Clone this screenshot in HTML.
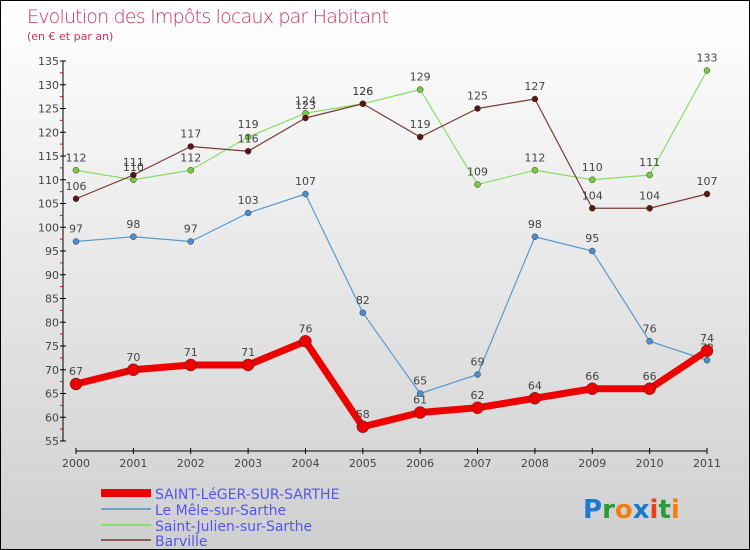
<!DOCTYPE html>
<html><head><meta charset="utf-8"><style>
body{margin:0}
#c{position:relative;width:748px;height:548px;border:1px solid #000;background:linear-gradient(#fff,#cfcfcf);font-family:"DejaVu Sans","Liberation Sans",sans-serif;overflow:hidden}
</style></head><body>
<div id="c">
<svg width="748" height="548" xmlns="http://www.w3.org/2000/svg" id="svg">
<text x="26" y="22" font-size="19" fill="#c8325f" font-family="DejaVu Sans, sans-serif" font-weight="200" textLength="362">Evolution des Impôts locaux par Habitant</text>
<text x="26" y="39" font-size="11" fill="#c8325f">(en € et par an)</text>
<g id="axes"></g><g id="series"></g>
<g font-size="14" fill="#5555ee">
<line x1="100" y1="492" x2="150" y2="492" stroke="#e00" stroke-width="8"/>
<text x="154" y="498">SAINT-LéGER-SUR-SARTHE</text>
<line x1="100" y1="508" x2="150" y2="508" stroke="#6aa0d0" stroke-width="2"/>
<text x="154" y="514">Le Mêle-sur-Sarthe</text>
<line x1="100" y1="524" x2="150" y2="524" stroke="#88dd66" stroke-width="2"/>
<text x="154" y="530">Saint-Julien-sur-Sarthe</text>
<line x1="100" y1="539" x2="150" y2="539" stroke="#8a5a5a" stroke-width="2"/>
<text x="154" y="545">Barville</text>
</g>
<text x="582" y="517" font-size="26" font-weight="bold"><tspan fill="#1a7ad0">P</tspan><tspan fill="#2a9a3a">r</tspan><tspan fill="#f08010">o</tspan><tspan fill="#1a7ad0">x</tspan><tspan fill="#e04020">i</tspan><tspan fill="#2a9a3a">t</tspan><tspan fill="#f08010">i</tspan></text>
</svg>
</div>
<script>
const years=[2000,2001,2002,2003,2004,2005,2006,2007,2008,2009,2010,2011];
const yTicks=[55,60,65,70,75,80,85,90,95,100,105,110,115,120,125,130,135];
const saintLeger=[67,70,71,71,76,58,61,62,64,66,66,74];
const mele=[97,98,97,103,107,82,65,69,98,95,76,72];
const saintJulien=[112,110,112,119,124,126,129,109,112,110,111,133];
const barville=[106,111,117,116,123,126,119,125,127,104,104,107];
const NS="http://www.w3.org/2000/svg";
function X(i){return 75+i*(706-75)/(years.length-1);}
function Y(v){return 440-(v-55)*4.75;}
function mk(p,tag,attrs){const e=document.createElementNS(NS,tag);for(const k in attrs)e.setAttribute(k,attrs[k]);p.appendChild(e);return e;}
const ax=document.getElementById('axes');
let l=mk(ax,'line',{x1:62,y1:Y(135),x2:62,y2:Y(55),stroke:'#000'});


l=mk(ax,'line',{x1:75,y1:450,x2:706,y2:450,stroke:'#000'});


yTicks.forEach(v=>{
 const t=mk(ax,'line',{x1:59,y1:Y(v),x2:65,y2:Y(v),stroke:'#000'});
 
 
 if(v<135){const m=mk(ax,'line',{x1:59,y1:Y(v+2.5),x2:62,y2:Y(v+2.5),stroke:'#e00'});
 
 }
 const tx=mk(ax,'text',{x:58,y:Y(v)+4,'font-size':11,'text-anchor':'end',fill:'#444'});
 tx.textContent=v;
 
 
});
years.forEach((yr,i)=>{
 const t=mk(ax,'line',{x1:X(i),y1:447,x2:X(i),y2:453,stroke:'#000'});
 
 
 const tx=mk(ax,'text',{x:X(i),y:466,'font-size':11,'text-anchor':'middle',fill:'#444'});
 tx.textContent=yr;
 
 
});
const se=document.getElementById('series');
function draw(vals,color,w,r,name,dotColor){
 const g=mk(se,'g',{});
 
 
 const pl=mk(g,'polyline',{points:vals.map((v,i)=>X(i)+','+Y(v)).join(' '),fill:'none',stroke:color,'stroke-width':w,'stroke-linejoin':'round'});
 
 
 vals.forEach((v,i)=>{
  const c=mk(g,'circle',{cx:X(i),cy:Y(v),r:r,fill:dotColor,stroke:'#333','stroke-width':0.5});
  
  
  const t=mk(g,'text',{x:X(i),y:Y(v)-9,'font-size':11,'text-anchor':'middle',fill:'#444'});
  t.textContent=v;
  
  
 });
}
draw(mele,'#5a9ad0',1.2,3,'mele','#4a90d0');
draw(saintJulien,'#88dd66',1.2,3,'saint-julien','#77cc44');
draw(barville,'#7a3a3a',1.2,3,'barville','#5a1515');
draw(saintLeger,'#ee0000',7,6,'saint-leger','#ee0000');
</script>
</body></html>
